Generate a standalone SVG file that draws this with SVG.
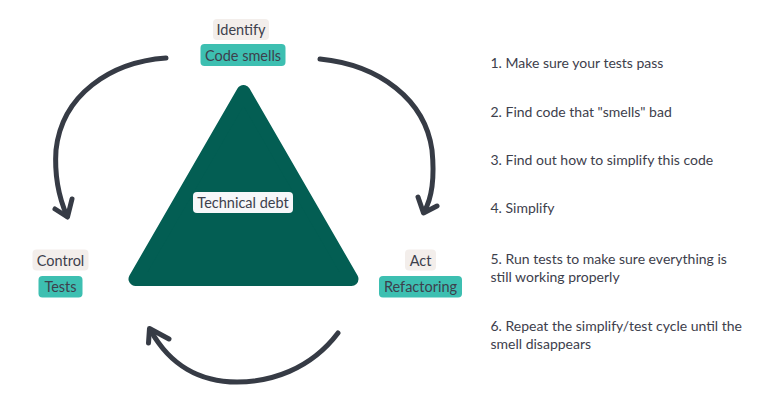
<svg xmlns="http://www.w3.org/2000/svg" width="779" height="406" viewBox="0 0 779 406">
<style>
text{font-family:Lato,"Noto Sans","Liberation Sans",sans-serif;font-size:14.5px;fill:#3d404c}
.lbl{text-anchor:middle;dominant-baseline:central}
.beige{fill:#f3eeeb}
.teal{fill:#3dbfb1}
.white{fill:#f6f7f9}
.arrow{fill:none;stroke:#363b45;stroke-width:5;stroke-linecap:round;stroke-linejoin:round}
.steps text{font-size:14px}
</style>
<rect width="779" height="406" fill="#ffffff"/>
<g id="triangle">
<polygon points="243.5,92 135.5,279 351.5,279" fill="#035e53" stroke="#035e53" stroke-width="14" stroke-linejoin="round"/>
<rect class="white" x="193" y="192" width="100" height="21" rx="4"/>
<text class="lbl" x="243" y="202.5">Technical debt</text>
</g>
<g id="identify">
<rect class="beige" x="213" y="19" width="56" height="21" rx="4"/>
<text class="lbl" x="241" y="29.5">Identify</text>
</g>
<g id="code-smells">
<rect class="teal" x="200.5" y="44" width="85" height="22" rx="4"/>
<text class="lbl" x="243" y="55">Code smells</text>
</g>
<g id="control">
<rect class="beige" x="32.5" y="249.5" width="56" height="21" rx="4"/>
<text class="lbl" x="60.5" y="260">Control</text>
</g>
<g id="tests">
<rect class="teal" x="38.5" y="276" width="44" height="21.5" rx="4"/>
<text class="lbl" x="60.5" y="286.7">Tests</text>
</g>
<g id="act">
<rect class="beige" x="405" y="249.5" width="31" height="21" rx="4"/>
<text class="lbl" x="420.5" y="260">Act</text>
</g>
<g id="refactoring">
<rect class="teal" x="379" y="276" width="83" height="21.5" rx="4"/>
<text class="lbl" x="420.5" y="286.7">Refactoring</text>
</g>
<g id="connectors">
<path class="arrow" d="M166,58 C110,62 62,95 56,150 C54,180 60,200 67,216"/>
<polyline class="arrow" points="55,209 67.5,217 72,199"/>
<path class="arrow" d="M320,59 C380,65 425,100 432,150 C435,180 431,200 424,212"/>
<polyline class="arrow" points="418,197 423.5,213 437,206"/>
<path class="arrow" d="M338,333 C310,370 270,382 237,382 C200,382 170,365 151,331"/>
<polyline class="arrow" points="148.5,343 149.5,328.5 169,339"/>
</g>
<g id="steps" class="steps">
<text x="490.5" y="68">1. Make sure your tests pass</text>
<text x="490.5" y="116.5">2. Find code that "smells" bad</text>
<text x="490.5" y="164.5">3. Find out how to simplify this code</text>
<text x="490.5" y="213">4. Simplify</text>
<text x="490.5" y="263.5">5. Run tests to make sure everything is</text>
<text x="490.5" y="282">still working properly</text>
<text x="490.5" y="330.5">6. Repeat the simplify/test cycle until the</text>
<text x="490.5" y="348.5">smell disappears</text>
</g>
</svg>
